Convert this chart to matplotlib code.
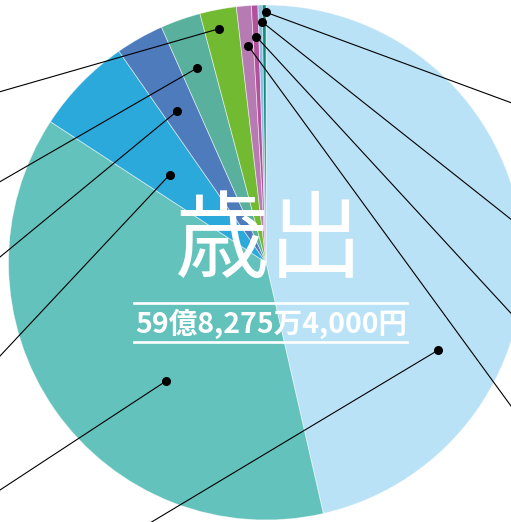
import matplotlib.pyplot as plt
import numpy as np

plt.rcParams['font.family'] = ['Noto Sans CJK JP', 'DejaVu Sans']

# share of each slice in %, clockwise from 12 o'clock
shares = [46.42, 37.78, 6.11, 3.03, 2.52, 2.29, 0.93, 0.41, 0.27, 0.23]
colors = ['#BAE2F7', '#63C2BC', '#2BA9DB', '#4E7BBB', '#58B09D',
          '#72BA31', '#B77BB3', '#B3519D', '#8DBDE3', '#0E8B7C']

title = '歳出'
total = '59億8,275万4,000円'

# leader dots: position inside the wedge (angle fraction, radius fraction)
dot_angle_frac = [0.70, 0.39, 0.42, 0.42, 0.48, 0.43, 0.58, 0.54, 0.76, 0.92]
dot_radius_frac = [0.750, 0.604, 0.506, 0.682, 0.801, 0.926, 0.844, 0.878, 0.936, 0.972]
# where each leader leaves the picture (pixels, y measured from top)
leader_exit = [(151.6, 522), (0, 490), (0, 356), (0, 257), (0, 181.7),
               (0, 91.7), (511, 406), (511, 313.3), (511, 219.3), (511, 102.7)]

W, H = 511, 522
cx, cy, R = 266, H - 262.5, 257.5

fig = plt.figure(figsize=(W / 100, H / 100), dpi=100)
ax = fig.add_axes([0, 0, 1, 1])

ax.pie(shares, colors=colors, startangle=90, counterclock=False,
       center=(cx, cy), radius=R,
       wedgeprops=dict(edgecolor=(1, 1, 1, 0.55), linewidth=0.6))

start = 0.0
total_share = sum(shares)
for i, s in enumerate(shares):
    span = 360.0 * s / total_share
    a = np.radians(90 - (start + dot_angle_frac[i] * span))
    r = dot_radius_frac[i] * R
    x0, y0 = cx + r * np.cos(a), cy + r * np.sin(a)
    ex, ey = leader_exit[i][0], H - leader_exit[i][1]
    x1, y1 = x0 + 1.3 * (ex - x0), y0 + 1.3 * (ey - y0)
    ax.plot([x0, x1], [y0, y1], color='black', lw=0.8, zorder=5)
    ax.plot(x0, y0, 'o', color='black', ms=5.5, zorder=6)
    start += span

ax.text(269.5, H - 243, title, color='white', fontsize=68,
        ha='center', va='center', zorder=7)
ax.text(271, H - 323.5, total, color='white', fontsize=20.5, fontweight='bold',
        ha='center', va='center', zorder=7)
ax.plot([134, 407.3], [H - 303.3, H - 303.3], color='white', lw=1.9, zorder=7)
ax.plot([134, 407.3], [H - 342.3, H - 342.3], color='white', lw=1.9, zorder=7)

ax.set_xlim(0, W)
ax.set_ylim(0, H)
ax.set_aspect('equal')
ax.axis('off')

plt.savefig('out.png', dpi=100)
